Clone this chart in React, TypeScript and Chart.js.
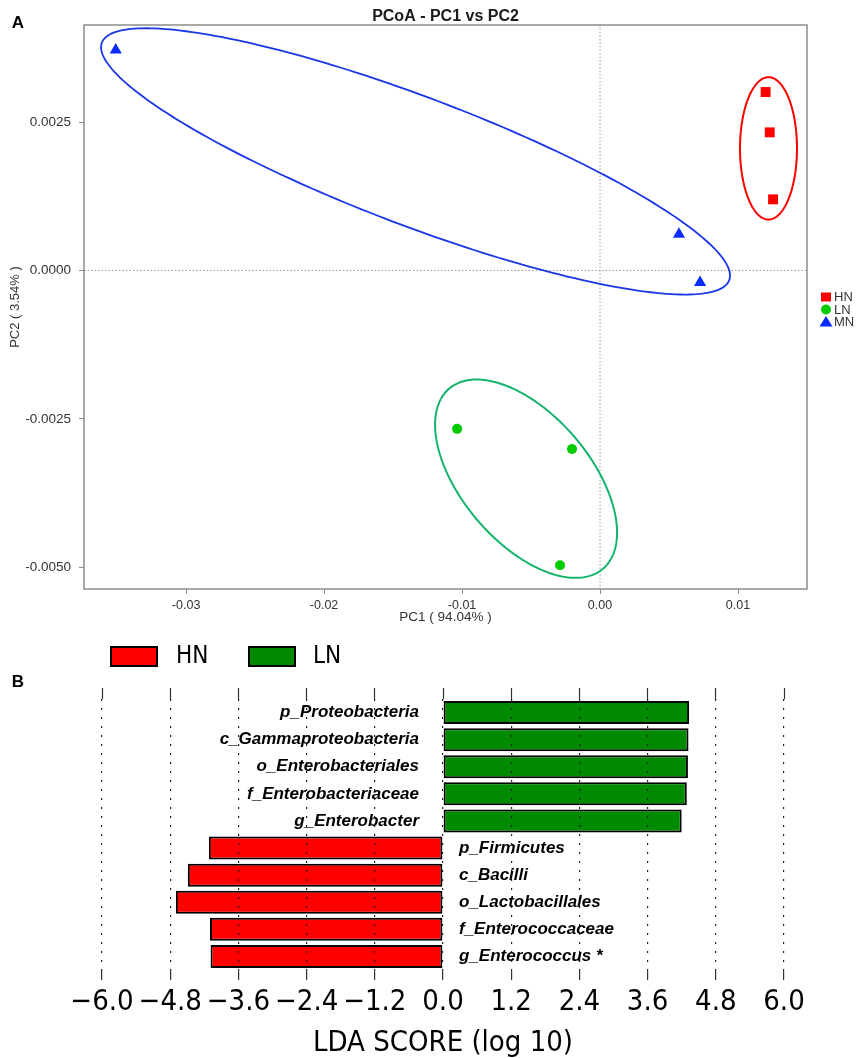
import React, { useEffect, useRef } from "react";
import { Chart, registerables } from "chart.js";

Chart.register(...registerables);

// ---------- Panel A : PCoA ----------
const groupNames = ["HN", "LN", "MN"];
const hnPC1 = [0.012, 0.0123, 0.01254];
const hnPC2 = [0.00301, 0.00233, 0.0012];
const lnPC1 = [-0.01036, -0.00203, -0.0029];
const lnPC2 = [-0.00267, -0.00301, -0.00497];
const mnPC1 = [-0.0351, 0.00572, 0.00725];
const mnPC2 = [0.00372, 0.00061, -0.0002];
// confidence ellipses: [centerX, centerY, axis1X, axis1Y, axis2X, axis2Y]
const hnEllipse = [0.01221, 0.00206, 0, 0.0012, 0.002065, 0];
const lnEllipse = [-0.00536, -0.00351, 0.00558, -0.001517, -0.003516, -0.000703];
const mnEllipse = [-0.01337, 0.00184, 0.022732, -0.002003, -0.001645, -0.001014];
const pc1Range = [-0.0374, 0.015];
const pc2Range = [-0.00537, 0.00414];

// ---------- Panel B : LEfSe LDA ----------
const lnTaxa = [
  "p_Proteobacteria",
  "c_Gammaproteobacteria",
  "o_Enterobacteriales",
  "f_Enterobacteriaceae",
  "g_Enterobacter",
];
const lnScores = [4.33, 4.32, 4.31, 4.29, 4.2];
const hnTaxa = [
  "p_Firmicutes",
  "c_Bacilli",
  "o_Lactobacillales",
  "f_Enterococcaceae",
  "g_Enterococcus *",
];
const hnScores = [-4.12, -4.49, -4.7, -4.1, -4.09];
const ldaRange = [-6, 6];
const ldaStep = 1.2;

const SANS = "'Liberation Sans', Arial, Helvetica, sans-serif";
const COND = "'DejaVu Sans Condensed', 'DejaVu Sans', sans-serif";

const C_RED = "#ff0000";
const C_LGREEN = "#00cc00";
const C_BLUE = "#0a2cff";

function fmt(v: any, d: number) {
  const n = Number(v);
  if (Math.abs(n) < 1e-12) return (0).toFixed(d);
  return n.toFixed(d);
}

function drawMarker(ctx: CanvasRenderingContext2D, style: string, x: number, y: number, color: string) {
  ctx.fillStyle = color;
  ctx.beginPath();
  if (style === "rect") {
    ctx.rect(x - 5, y - 4.5, 10, 9);
  } else if (style === "circle") {
    ctx.arc(x, y, 5, 0, Math.PI * 2);
  } else {
    ctx.moveTo(x, y - 6);
    ctx.lineTo(x + 6.5, y + 4.5);
    ctx.lineTo(x - 6.5, y + 4.5);
    ctx.closePath();
  }
  ctx.fill();
}

const pcoaPlugin = {
  id: "pcoaDecor",
  beforeDatasetsDraw(chart: any) {
    const { ctx, chartArea: a, scales } = chart;
    const xs = scales.x;
    const ys = scales.y;
    ctx.save();
    // zero reference lines
    ctx.strokeStyle = "#9a9a9a";
    ctx.lineWidth = 1;
    ctx.setLineDash([1.5, 2]);
    const x0 = xs.getPixelForValue(0);
    const y0 = ys.getPixelForValue(0);
    ctx.beginPath();
    ctx.moveTo(x0, a.top);
    ctx.lineTo(x0, a.bottom);
    ctx.moveTo(a.left, y0);
    ctx.lineTo(a.right, y0);
    ctx.stroke();
    ctx.setLineDash([]);
    // ellipses
    const ells: [number[], string, number][] = [
      [mnEllipse, "#1a36e6", 1.8],
      [hnEllipse, "#ff0000", 2],
      [lnEllipse, "#14b46c", 2],
    ];
    ells.forEach(([e, color, w]) => {
      ctx.strokeStyle = color;
      ctx.lineWidth = w;
      ctx.beginPath();
      const N = 240;
      for (let k = 0; k <= N; k++) {
        const t = (k / N) * Math.PI * 2;
        const dx = e[0] + e[2] * Math.cos(t) + e[4] * Math.sin(t);
        const dy = e[1] + e[3] * Math.cos(t) + e[5] * Math.sin(t);
        const px = xs.getPixelForValue(dx);
        const py = ys.getPixelForValue(dy);
        if (k === 0) ctx.moveTo(px, py);
        else ctx.lineTo(px, py);
      }
      ctx.closePath();
      ctx.stroke();
    });
    ctx.restore();
  },
  afterDraw(chart: any) {
    const { ctx, chartArea: a } = chart;
    ctx.save();
    // frame
    ctx.strokeStyle = "#8c8c8c";
    ctx.lineWidth = 1.5;
    ctx.strokeRect(a.left, a.top, a.right - a.left, a.bottom - a.top);
    // title
    ctx.fillStyle = "#1a1a1a";
    ctx.font = `bold 16px ${SANS}`;
    ctx.textAlign = "center";
    ctx.textBaseline = "middle";
    ctx.fillText("PCoA - PC1 vs PC2", (a.left + a.right) / 2, 17);
    // panel letter
    ctx.fillStyle = "#000";
    ctx.font = `bold 17px ${SANS}`;
    ctx.fillText("A", 18, 23);
    // legend
    ctx.font = `13px ${SANS}`;
    ctx.textAlign = "left";
    chart.data.datasets.forEach((ds: any, i: number) => {
      const yy = 297 + i * 12.5;
      drawMarker(ctx, ds.pointStyle, 826, yy, ds.backgroundColor);
      ctx.fillStyle = "#333";
      ctx.fillText(ds.label, 834, yy + 0.5);
    });
    ctx.restore();
  },
};

const ldaPlugin = {
  id: "ldaDecor",
  afterDraw(chart: any) {
    const { ctx, scales } = chart;
    const xs = scales.x;
    const ys = scales.y;
    const x0 = xs.getPixelForValue(0);
    ctx.save();
    // bar labels
    ctx.fillStyle = "#000";
    ctx.font = `italic bold 17px ${SANS}`;
    ctx.textBaseline = "middle";
    const labels: string[] = chart.data.labels;
    const hn = chart.data.datasets[0].data;
    labels.forEach((lab: string, i: number) => {
      const y = ys.getPixelForValue(i);
      if (hn[i] !== null && hn[i] < 0) {
        ctx.textAlign = "left";
        ctx.fillText(lab, x0 + 16, y);
      } else {
        ctx.textAlign = "right";
        ctx.fillText(lab, x0 - 24, y);
      }
    });
    // legend
    const items = [
      { ds: chart.data.datasets[0], bx: 111, tx: 176 },
      { ds: chart.data.datasets[1], bx: 249, tx: 313 },
    ];
    items.forEach(({ ds, bx, tx }) => {
      ctx.fillStyle = ds.backgroundColor;
      ctx.fillRect(bx, 7, 46, 19);
      ctx.strokeStyle = "#000";
      ctx.lineWidth = 2;
      ctx.strokeRect(bx, 7, 46, 19);
      ctx.fillStyle = "#000";
      ctx.font = `24px ${COND}`;
      ctx.textAlign = "left";
      ctx.textBaseline = "middle";
      ctx.fillText(ds.label, tx, 17);
    });
    // panel letter
    ctx.font = `bold 17px ${SANS}`;
    ctx.textAlign = "center";
    ctx.fillText("B", 18, 42);
    ctx.restore();
  },
};

export default function App() {
  const refA = useRef<HTMLCanvasElement>(null);
  const refB = useRef<HTMLCanvasElement>(null);

  useEffect(() => {
    const pts = (xs: number[], ys: number[]) => xs.map((x, i) => ({ x, y: ys[i] }));
    const chartA = new Chart(refA.current as HTMLCanvasElement, {
      type: "scatter",
      data: {
        datasets: [
          {
            label: groupNames[0],
            data: pts(hnPC1, hnPC2),
            pointStyle: "rect",
            pointRadius: 7,
            backgroundColor: C_RED,
            borderColor: C_RED,
            borderWidth: 0,
          },
          {
            label: groupNames[1],
            data: pts(lnPC1, lnPC2),
            pointStyle: "circle",
            pointRadius: 5,
            backgroundColor: C_LGREEN,
            borderColor: C_LGREEN,
            borderWidth: 0,
          },
          {
            label: groupNames[2],
            data: pts(mnPC1, mnPC2),
            pointStyle: "triangle",
            pointRadius: 7,
            backgroundColor: C_BLUE,
            borderColor: C_BLUE,
            borderWidth: 0,
          },
        ],
      } as any,
      options: {
        animation: false,
        responsive: true,
        maintainAspectRatio: false,
        events: [],
        layout: { padding: { left: 0, top: 25, right: 50, bottom: 0 } },
        plugins: { legend: { display: false }, tooltip: { enabled: false } },
        scales: {
          x: {
            type: "linear",
            min: pc1Range[0],
            max: pc1Range[1],
            afterFit: (s: any) => {
              s.height = 51;
            },
            ticks: {
              stepSize: 0.01,
              includeBounds: false,
              padding: 4.5,
              color: "#333",
              font: { family: SANS, size: 12.5 },
              callback: (v: any) => fmt(v, 2),
            },
            grid: { drawOnChartArea: false, drawTicks: true, tickLength: 5, tickColor: "#8c8c8c", color: "#8c8c8c" },
            border: { display: false },
            title: {
              display: true,
              text: "PC1 ( 94.04% )",
              color: "#333",
              font: { family: SANS, size: 13.5 },
              padding: { top: 0, bottom: 15 },
            },
          },
          y: {
            type: "linear",
            min: pc2Range[0],
            max: pc2Range[1],
            afterFit: (s: any) => {
              s.width = 84;
            },
            ticks: {
              stepSize: 0.0025,
              includeBounds: false,
              padding: 8,
              color: "#333",
              font: { family: SANS, size: 13.5 },
              callback: (v: any) => fmt(v, 4),
            },
            grid: { drawOnChartArea: false, drawTicks: true, tickLength: 5, tickColor: "#8c8c8c", color: "#8c8c8c" },
            border: { display: false },
            title: {
              display: true,
              text: "PC2 ( 3.54% )",
              color: "#333",
              font: { family: SANS, size: 13 },
              padding: { top: 8, bottom: 0 },
            },
          },
        },
      } as any,
      plugins: [pcoaPlugin],
    });

    const taxa = [...lnTaxa, ...hnTaxa];
    const lnData = [...lnScores, ...hnTaxa.map(() => null)];
    const hnData = [...lnTaxa.map(() => null), ...hnScores];

    const chartB = new Chart(refB.current as HTMLCanvasElement, {
      type: "bar",
      data: {
        labels: taxa,
        datasets: [
          {
            label: "HN",
            data: hnData,
            backgroundColor: "#ff0000",
            borderColor: "#000",
            borderWidth: 2,
            borderSkipped: false,
            grouped: false,
            barPercentage: 0.85,
            categoryPercentage: 1,
          },
          {
            label: "LN",
            data: lnData,
            backgroundColor: "#008a00",
            borderColor: "#000",
            borderWidth: 2,
            borderSkipped: false,
            grouped: false,
            barPercentage: 0.85,
            categoryPercentage: 1,
          },
        ],
      } as any,
      options: {
        indexAxis: "y",
        animation: false,
        responsive: true,
        maintainAspectRatio: false,
        events: [],
        layout: { padding: { left: 102, right: 73, top: 48, bottom: 0 } },
        plugins: { legend: { display: false }, tooltip: { enabled: false } },
        scales: {
          y: { type: "category", display: false },
          x: {
            type: "linear",
            position: "bottom",
            min: ldaRange[0],
            max: ldaRange[1],
            afterFit: (s: any) => {
              s.height = 88;
            },
            ticks: {
              stepSize: ldaStep,
              padding: 5,
              color: "#000",
              maxRotation: 0,
              minRotation: 0,
              autoSkip: false,
              font: { family: COND, size: 29 },
              callback: (v: any) => {
                const n = Number(v);
                if (Math.abs(n) < 1e-9) return "0.0";
                return n.toFixed(1).replace("-", "\u2212");
              },
            },
            grid: {
              z: 1,
              color: "#222",
              lineWidth: 1.2,
              drawOnChartArea: true,
              drawTicks: true,
              tickLength: 10,
              tickColor: "#333",
              tickWidth: 1.2,
              tickBorderDash: [],
            },
            border: { display: false, dash: [2, 7] },
            title: {
              display: true,
              text: "LDA SCORE (log 10)",
              color: "#000",
              font: { family: COND, size: 29, lineHeight: 1 },
              padding: { top: 0, bottom: 0 },
            },
          },
          xTop: {
            type: "linear",
            axis: "x",
            position: "top",
            min: ldaRange[0],
            max: ldaRange[1],
            afterFit: (s: any) => {
              s.height = 11;
            },
            ticks: { display: false, stepSize: ldaStep },
            grid: {
              drawOnChartArea: false,
              drawTicks: true,
              tickLength: 11,
              tickColor: "#333",
              tickWidth: 1.2,
              tickBorderDash: [],
            },
            border: { display: false },
          },
        },
      } as any,
      plugins: [ldaPlugin],
    });

    return () => {
      chartA.destroy();
      chartB.destroy();
    };
  }, []);

  return (
    <div style={{ position: "absolute", left: 0, top: 0, width: 857, height: 1058, background: "#fff" }}>
      <div style={{ position: "absolute", left: 0, top: 0, width: 857, height: 640 }}>
        <canvas ref={refA} />
      </div>
      <div style={{ position: "absolute", left: 0, top: 640, width: 857, height: 418 }}>
        <canvas ref={refB} />
      </div>
    </div>
  );
}
